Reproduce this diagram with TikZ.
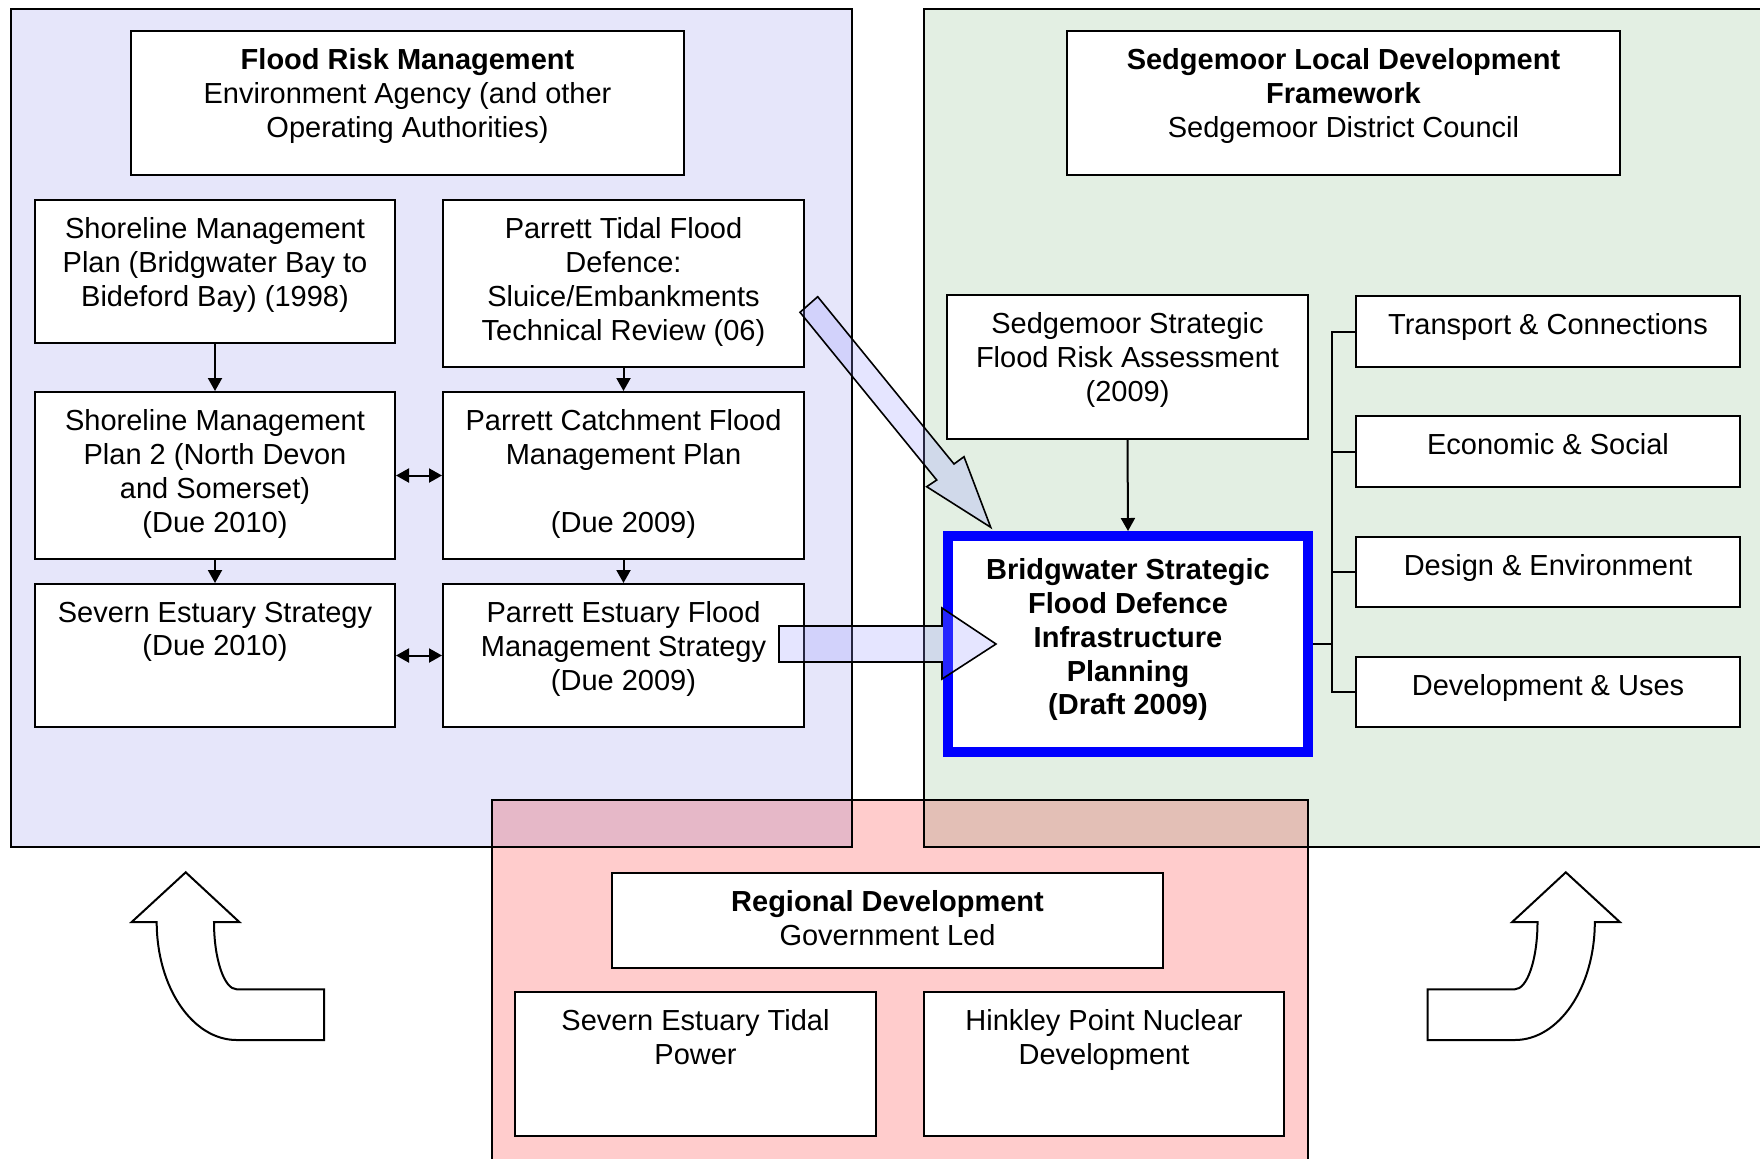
\documentclass[tikz,border=0pt]{standalone}
\usepackage{fontspec}
\setmainfont{Liberation Sans}
\usetikzlibrary{arrows.meta,calc}
\definecolor{lav}{HTML}{E6E6FA}
\definecolor{grn}{HTML}{E3EFE3}
\definecolor{pnk}{HTML}{FFCCCC}
\definecolor{lavpnk}{HTML}{E6B8C8}
\definecolor{grnpnk}{HTML}{E3BFB6}
\definecolor{arrfill}{HTML}{9999FF}
\definecolor{bblue}{HTML}{0000FF}
\tikzset{
 boxst/.style={draw=black, fill=white, line width=1pt, inner sep=0pt},
 txt/.style={inner sep=0pt, align=center, font=\fontsize{14.5}{16.85}\selectfont},
 arr/.style={line width=1pt, -{Triangle[length=6.5pt,width=7pt]}},
 arrb/.style={line width=1pt, {Triangle[length=6.5pt,width=7pt]}-{Triangle[length=6.5pt,width=7pt]}},
 panel/.style={draw=black, line width=1pt},
 blockarr/.style={draw=black, line width=0.8pt, fill=arrfill, fill opacity=0.25},
 curvarr/.style={draw=black, line width=1pt, fill=white},
 brk/.style={line width=1pt},
}
\newcommand\bx[6]{%
 \node[boxst, minimum width={(#4-#2)*0.5pt}, minimum height={(#5-#3)*0.5pt}] (#1) at ({(#2+#4)/2},{(#3+#5)/2}) {};
 \node[txt, anchor=north] (#1t) at ({(#2+#4)/2},{#3+17.5}) {#6};}
\begin{document}
\begin{tikzpicture}[x=0.5pt,y=-0.5pt]
\useasboundingbox (0,0) rectangle (1760,1158);
\clip (0,0) rectangle (1760,1158);
% panels
\fill[lav] (11,9) rectangle (852,847);
\fill[grn] (924,9) rectangle (1765,847);
\fill[pnk] (492,800) rectangle (1308,1165);
\fill[lavpnk] (492,800) rectangle (852,847);
\fill[grnpnk] (924,800) rectangle (1308,847);
\draw[panel] (11,9) rectangle (852,847);
\draw[panel] (924,9) rectangle (1765,847);
\draw[panel] (492,800) rectangle (1308,1165);
% left boxes
\bx{b1}{131}{31}{684}{175}{\textbf{Flood Risk Management}\\Environment Agency (and other\\Operating Authorities)}
\bx{b2}{35}{200}{395}{343}{Shoreline Management\\Plan (Bridgwater Bay to\\Bideford Bay) (1998)}
\bx{b3}{443}{200}{804}{367}{Parrett Tidal Flood\\Defence:\\Sluice/Embankments\\Technical Review (06)}
\bx{b4}{35}{392}{395}{559}{Shoreline Management\\Plan 2 (North Devon\\and Somerset)\\(Due 2010)}
\bx{b5}{443}{392}{804}{559}{Parrett Catchment Flood\\Management Plan\\\mbox{}\\(Due 2009)}
\bx{b6}{35}{584}{395}{727}{Severn Estuary Strategy\\(Due 2010)}
\bx{b7}{443}{584}{804}{727}{Parrett Estuary Flood\\Management Strategy\\(Due 2009)}
% right boxes
\bx{b8}{1067}{31}{1620}{175}{\textbf{Sedgemoor Local Development}\\\textbf{Framework}\\Sedgemoor District Council}
\bx{b9}{947}{295}{1308}{439}{Sedgemoor Strategic\\Flood Risk Assessment\\(2009)}
\bx{b11}{1356}{296}{1740}{367}{Transport \& Connections}
\bx{b12}{1356}{416}{1740}{487}{Economic \& Social}
\bx{b13}{1356}{537}{1740}{607}{Design \& Environment}
\bx{b14}{1356}{657}{1740}{727}{Development \& Uses}
\node[draw=bblue, fill=white, line width=5pt, inner sep=0pt, minimum width=180pt, minimum height=108pt] (b10) at (1128,644) {};
\node[txt, anchor=north] (b10t) at (1128,558.5) {\textbf{Bridgwater Strategic}\\\textbf{Flood Defence}\\\textbf{Infrastructure}\\\textbf{Planning}\\\textbf{(Draft 2009)}};
% bottom boxes
\bx{b15}{612}{873}{1163}{968}{\textbf{Regional Development}\\Government Led}
\bx{b16}{515}{992}{876}{1136}{Severn Estuary Tidal\\Power}
\bx{b17}{924}{992}{1284}{1136}{Hinkley Point Nuclear\\Development}
% connectors
\draw[arr] (b2.south) -- (b4.north);
\draw[arr] (b3.south) -- (b5.north);
\draw[arr] (b4.south) -- (b6.north);
\draw[arr] (b5.south) -- (b7.north);
\draw[arr] (b9.south) -- (b10.north);
\draw[arrb] (b4.east) -- (b5.west);
\draw[arrb] (b6.east) -- (b7.west);
% bracket
\coordinate (bk) at (1332,0);
\draw[brk] (b11.west) -- (b11.west -| bk) |- (b14.west);
\draw[brk] (b12.west) -- (b12.west -| bk);
\draw[brk] (b13.west) -- (b13.west -| bk);
\draw[brk] (b10.east) -- (b10.east -| bk);
% block arrows
\draw[blockarr] (800,312.3) -- (817.7,296.7) -- (954,464) -- (964,456.7) -- (990.7,527.3) -- (926.7,486.7) -- (936.7,480) -- cycle;
\draw[blockarr] (779,626) -- (942,626) -- (942,608) -- (996,644) -- (942,679) -- (942,662) -- (779,662) -- cycle;
% curved arrows
\draw[curvarr] (185.7,872.3) -- (131.7,922) -- (156.7,922) .. controls (156.7,987.2) and (192.5,1040) .. (236.7,1040) -- (324,1040) -- (324,989.3) -- (236.7,989.3) .. controls (224.2,989.3) and (214,959.2) .. (214,922) -- (239.3,922) -- cycle;
\draw[curvarr] (1565.8,872.3) -- (1619.8,922) -- (1594.8,922) .. controls (1594.8,987.2) and (1559,1040) .. (1514.8,1040) -- (1427.5,1040) -- (1427.5,989.3) -- (1514.8,989.3) .. controls (1527.3,989.3) and (1537.5,959.2) .. (1537.5,922) -- (1512.2,922) -- cycle;
\end{tikzpicture}
\end{document}
